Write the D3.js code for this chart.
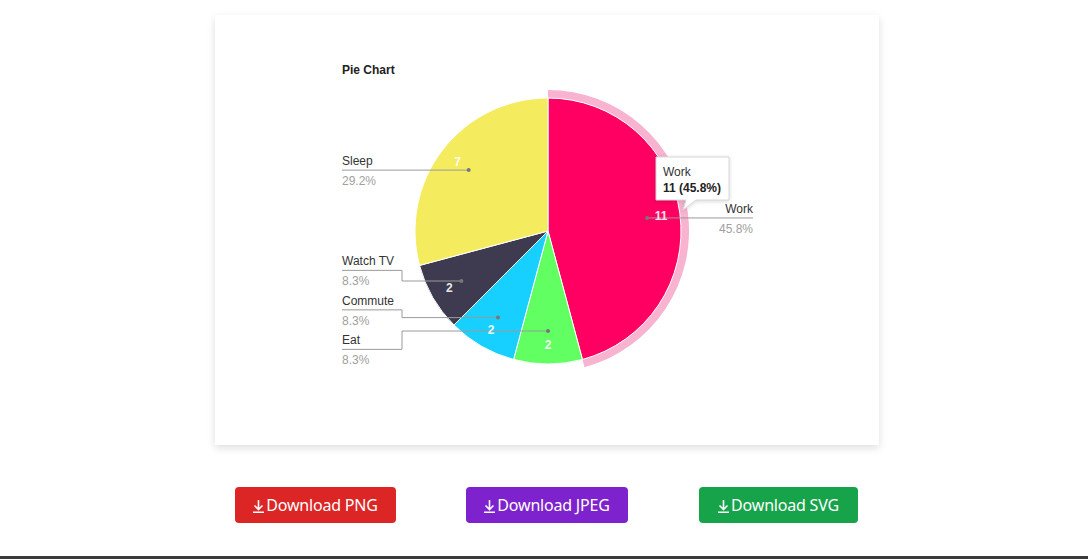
<!DOCTYPE html>
<html>
<head>
<meta charset="utf-8">
<script src="https://cdn.jsdelivr.net/npm/d3@7"></script>
<style>
  body { margin: 0; width: 1088px; height: 559px; background: #fff; position: relative; overflow: hidden; font-family: 'Liberation Sans', Arial, sans-serif; }
  #card { position: absolute; left: 215px; top: 15px; width: 664px; height: 430px; background: #fff;
    box-shadow: 0 3px 8px rgba(0,0,0,0.13); }
  .btn { position: absolute; top: 487px; height: 36px; border-radius: 4px; color: #fff;
    font-family: 'Noto Sans', Lato, sans-serif; font-size: 16px; line-height: 36px; text-align: center; letter-spacing: -0.2px; }
  .btn svg { vertical-align: -2px; margin-right: 2px; }
  #bottombar { position: absolute; left: 0; top: 556px; width: 1088px; height: 3px; background: #3a3a3a; }
</style>
</head>
<body>
<div id="card"></div>
<div class="btn" style="left:235px;width:161px;background:#dc2626;"><svg width="11" height="13"><path d="M5.5 0V9M1.5 5.5L5.5 9.5L9.5 5.5M0 12.2H11" stroke="#fff" stroke-width="1.6" fill="none"/></svg>Download PNG</div>
<div class="btn" style="left:466px;width:162px;background:#7e22ce;"><svg width="11" height="13"><path d="M5.5 0V9M1.5 5.5L5.5 9.5L9.5 5.5M0 12.2H11" stroke="#fff" stroke-width="1.6" fill="none"/></svg>Download JPEG</div>
<div class="btn" style="left:699px;width:159px;background:#16a34a;"><svg width="11" height="13"><path d="M5.5 0V9M1.5 5.5L5.5 9.5L9.5 5.5M0 12.2H11" stroke="#fff" stroke-width="1.6" fill="none"/></svg>Download SVG</div>
<div id="bottombar"></div>
<script>
// data
const categories = ['Work', 'Eat', 'Commute', 'Watch TV', 'Sleep']
const values = [11, 2, 2, 2, 7]
const sliceColors = ['#ff0062', '#62ff62', '#17d0ff', '#3e3b50', '#f5eb5f']
const highlighted = 'Work'

const width = 664
const height = 430
const cx = 333
const cy = 216
const radius = 133

const svg = d3.select('#card')
  .append('svg')
  .attr('width', width)
  .attr('height', height)

svg.append('text')
  .attr('x', 127)
  .attr('y', 59)
  .attr('font-size', 12)
  .attr('font-weight', 'bold')
  .attr('fill', '#222')
  .text('Pie Chart')

const data = categories.map((c, i) => ({ name: c, value: values[i], color: sliceColors[i] }))
const total = d3.sum(values)

const pie = d3.pie().sort(null).value(d => d.value)
const arcs = pie(data)

const arc = d3.arc().innerRadius(0).outerRadius(radius)
const ringArc = d3.arc().innerRadius(radius).outerRadius(radius + 8)
const dotArc = d3.arc().innerRadius(100).outerRadius(100)
const valArc = d3.arc().innerRadius(114).outerRadius(114)

const g = svg.append('g').attr('transform', `translate(${cx},${cy})`)

// hover ring
g.selectAll('.ring')
  .data(arcs.filter(d => d.data.name === highlighted))
  .enter()
  .append('path')
  .attr('class', 'ring')
  .attr('d', ringArc)
  .attr('fill', '#f7b3d0')

g.selectAll('.slice')
  .data(arcs)
  .enter()
  .append('path')
  .attr('class', 'slice')
  .attr('d', arc)
  .attr('fill', d => d.data.color)
  .attr('stroke', '#fff')
  .attr('stroke-width', 1)

const pct = d => (d.data.value / total * 100).toFixed(1) + '%'

// label layout: left side labels spaced apart, centred on their cluster
const labels = arcs.map(d => {
  const c = dotArc.centroid(d)
  const mid = (d.startAngle + d.endAngle) / 2
  return { d, dot: c, side: mid < Math.PI ? 'right' : 'left', y: c[1] }
})

const gap = 39.5
;['left', 'right'].forEach(side => {
  const list = labels.filter(l => l.side === side).sort((a, b) => a.y - b.y)
  let clusters = list.map(l => [l])
  let merged = true
  while (merged) {
    merged = false
    for (let i = 0; i < clusters.length - 1; i++) {
      const a = clusters[i], b = clusters[i + 1]
      const pos = cl => {
        const m = d3.mean(cl, l => l.dot[1])
        return cl.map((l, k) => m + (k - (cl.length - 1) / 2) * gap)
      }
      const pa = pos(a), pb = pos(b)
      if (pb[0] - pa[pa.length - 1] < gap) {
        clusters.splice(i, 2, a.concat(b))
        merged = true
        break
      }
    }
  }
  clusters.forEach(cl => {
    const m = d3.mean(cl, l => l.dot[1])
    cl.forEach((l, k) => { l.y = m + (k - (cl.length - 1) / 2) * gap })
  })
})

const leftX = 127 - cx
const elbowX = 187 - cx
const rightX = 538 - cx

const lab = g.selectAll('.label').data(labels).enter().append('g').attr('class', 'label')

lab.append('path')
  .attr('fill', 'none')
  .attr('stroke', '#9a9a9a')
  .attr('stroke-width', 1)
  .attr('d', l => {
    if (l.side === 'left') {
      if (Math.abs(l.y - l.dot[1]) < 1) return `M${leftX},${l.y}H${l.dot[0]}`
      return `M${leftX},${l.y}H${elbowX}V${l.dot[1]}H${l.dot[0]}`
    }
    return `M${l.dot[0]},${l.dot[1]}H${rightX}`
  })

lab.append('circle')
  .attr('cx', l => l.dot[0])
  .attr('cy', l => l.dot[1])
  .attr('r', 2)
  .attr('fill', '#777')

lab.append('text')
  .attr('x', l => l.side === 'left' ? leftX : rightX)
  .attr('y', l => l.y - 5)
  .attr('text-anchor', l => l.side === 'left' ? 'start' : 'end')
  .attr('font-size', 12)
  .attr('fill', '#333')
  .text(l => l.d.data.name)

lab.append('text')
  .attr('x', l => l.side === 'left' ? leftX : rightX)
  .attr('y', l => l.y + 15)
  .attr('text-anchor', l => l.side === 'left' ? 'start' : 'end')
  .attr('font-size', 12)
  .attr('fill', '#a0a0a0')
  .text(l => pct(l.d))

g.selectAll('.val')
  .data(arcs)
  .enter()
  .append('text')
  .attr('class', 'val')
  .attr('x', d => valArc.centroid(d)[0])
  .attr('y', d => valArc.centroid(d)[1] + 4)
  .attr('text-anchor', 'middle')
  .attr('font-size', 12)
  .attr('font-weight', 'bold')
  .attr('fill', '#fff')
  .attr('fill-opacity', 0.9)
  .text(d => d.data.value)

// tooltip for the hovered slice
const hov = arcs.find(d => d.data.name === highlighted)
const tx = 441, ty = 142, tw = 73, th = 43
const tip = svg.append('g').attr('class', 'tooltip')
tip.append('path')
  .attr('d', `M${tx},${ty}H${tx + tw}V${ty + th}H${tx + 40}L${tx + 27},${ty + th + 10}L${tx + 30},${ty + th}H${tx}Z`)
  .attr('fill', '#fff')
  .attr('stroke', '#d8d8d8')
  .attr('stroke-width', 1)
  .style('filter', 'drop-shadow(0 1px 2px rgba(0,0,0,0.15))')
tip.append('text')
  .attr('x', tx + 7)
  .attr('y', ty + 19)
  .attr('font-size', 12)
  .attr('fill', '#333')
  .text(hov.data.name)
tip.append('text')
  .attr('x', tx + 7)
  .attr('y', ty + 35)
  .attr('font-size', 12)
  .attr('font-weight', 'bold')
  .attr('fill', '#222')
  .text(`${hov.data.value} (${pct(hov)})`)
</script>
</body>
</html>
